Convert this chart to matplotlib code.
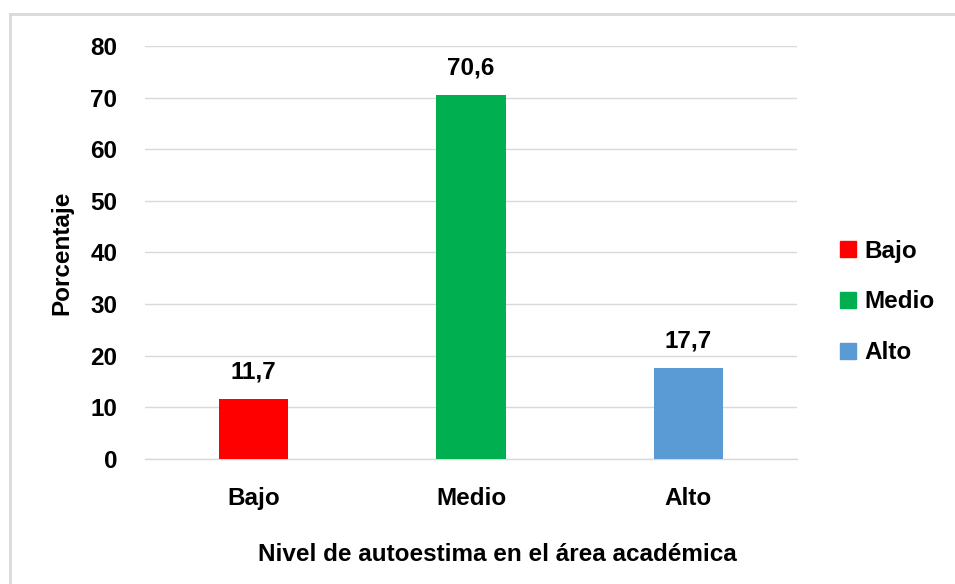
import matplotlib
matplotlib.use("Agg")
import matplotlib.pyplot as plt
from matplotlib.patches import Rectangle
from matplotlib.lines import Line2D

categories = ["Bajo", "Medio", "Alto"]
values = [11.7, 70.6, 17.7]
value_labels = ["11,7", "70,6", "17,7"]
colors = ["#FF0000", "#00B050", "#5B9BD5"]
yticks = [0, 10, 20, 30, 40, 50, 60, 70, 80]
xlabel = "Nivel de autoestima en el área académica"
ylabel = "Porcentaje"

plt.rcParams['font.family'] = ['Liberation Sans', 'DejaVu Sans']
plt.rcParams['font.weight'] = 'bold'
FS = 17.5

W, H = 955, 584
fig = plt.figure(figsize=(W/100, H/100), dpi=100)
fig.patch.set_facecolor("white")

# border (left & top visible)
fig.add_artist(Line2D([9.5/W, 9.5/W], [0, 1 - 14/H], transform=fig.transFigure,
                      color="#D9D9D9", lw=2))
fig.add_artist(Line2D([9.5/W, 1], [1 - 14/H, 1 - 14/H], transform=fig.transFigure,
                      color="#D9D9D9", lw=2))

left, right = 145/W, 797/W
bottom, top = 1 - 459/H, 1 - 46/H
ax = fig.add_axes([left, bottom, right - left, top - bottom])
x = list(range(len(categories)))
bars = ax.bar(x, values, width=0.32, color=colors, zorder=3)
ax.set_xlim(-0.5, 2.5)
ax.set_ylim(0, 80)
ax.set_yticks(yticks)
ax.set_yticklabels([str(t) for t in yticks], fontsize=FS, fontweight='bold')
ax.set_xticks(x)
ax.set_xticklabels(categories, fontsize=FS, fontweight='bold')
ax.tick_params(axis='both', length=0)
ax.tick_params(axis='y', pad=20)
ax.tick_params(axis='x', pad=20)
ax.grid(axis='y', color="#D9D9D9", lw=1, zorder=0)
for s in ["top", "right", "left"]:
    ax.spines[s].set_visible(False)
ax.spines["bottom"].set_color("#D9D9D9")
ax.spines["bottom"].set_linewidth(1)

for xi, v, lab in zip(x, values, value_labels):
    ax.annotate(lab, (xi, v), xytext=(0, 11), textcoords="offset points",
                ha="center", va="bottom", fontsize=FS, fontweight='bold')

ax.set_xlabel(xlabel, fontsize=FS, fontweight='bold', labelpad=24,
              x=(497 - 145) / 652)
ax.set_ylabel(ylabel, fontsize=FS, fontweight='bold', labelpad=12)

# legend
handles = [Rectangle((0, 0), 1, 1, color=c) for c in colors]
leg = fig.legend(handles, categories, loc="center left",
                 bbox_to_anchor=(818/W, 1 - 302/H), frameon=False,
                 prop={'size': FS, 'weight': 'bold'}, handlelength=0.65,
                 handleheight=0.65, handletextpad=0.35, labelspacing=1.15)

fig.savefig("out.png", dpi=100)
